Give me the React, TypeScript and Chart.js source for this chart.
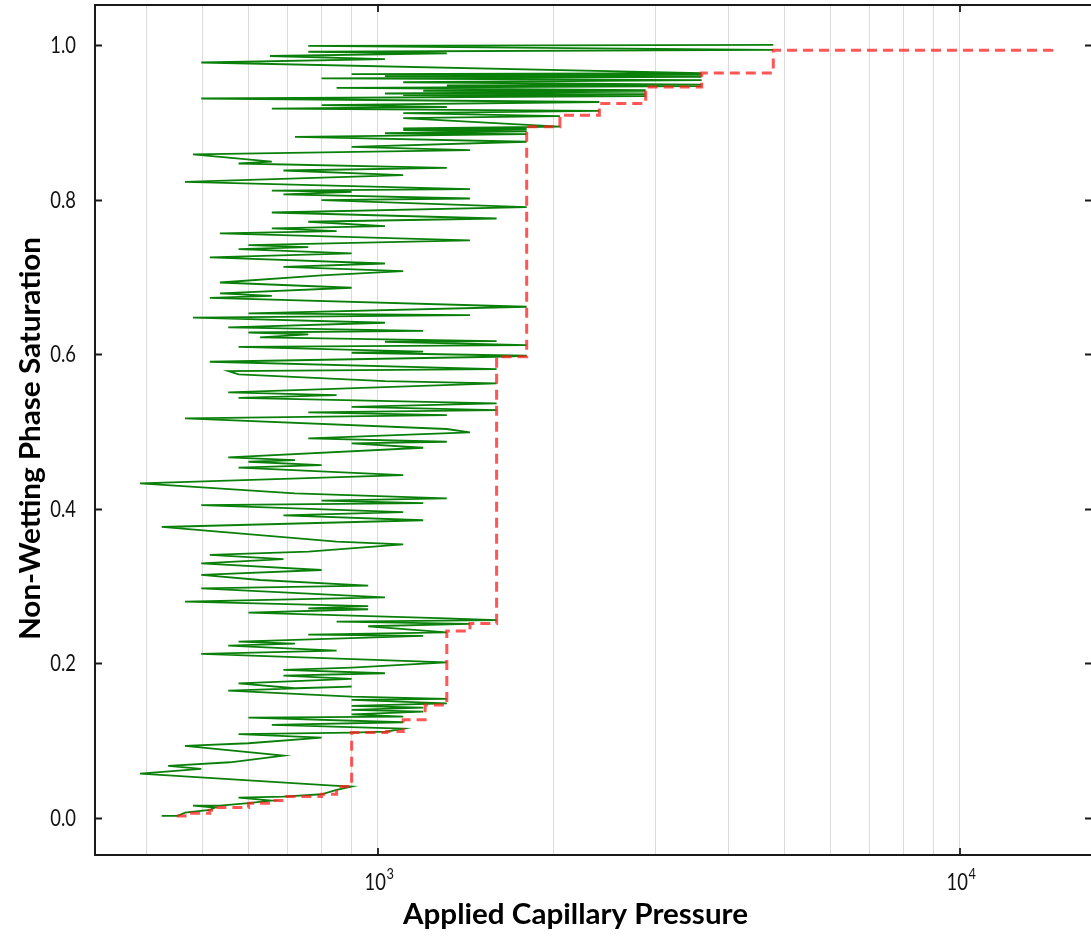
import React, { useEffect, useRef } from 'react';
import { Chart, registerables } from 'chart.js';

Chart.register(...registerables);

// Green trace: applied capillary pressure vs non-wetting phase saturation (time ordered)
const greenPressure = [
  425, 453, 466, 514, 525, 481, 535, 599, 657, 576, 688, 800, 849, 901, 838, 390, 497, 436, 557, 688,
  466, 599, 800, 576, 901, 1035, 1105, 657, 1105, 599, 1105, 901, 1196, 901, 1196, 901, 1313, 901, 1313, 901,
  553, 901, 720, 576, 901, 688, 1028, 688, 901, 1313, 497, 849, 553, 720, 576, 1196, 759, 1313, 962, 1439,
  849, 1599, 1313, 599, 962, 759, 962, 466, 1028, 497, 962, 627, 497, 800, 497, 688, 514, 759, 1105, 849,
  425, 1196, 688, 1105, 497, 1196, 800, 1313, 720, 390, 1105, 576, 800, 599, 720, 553, 1196, 901, 1313, 759,
  1439, 1313, 466, 1313, 759, 1599, 901, 1599, 576, 849, 553, 1599, 1028, 576, 553, 1599, 514, 1599, 1801, 901,
  1196, 576, 1801, 1028, 1599, 627, 759, 599, 1196, 553, 1028, 481, 1439, 599, 1801, 514, 657, 535, 901, 535,
  800, 1105, 688, 1028, 514, 901, 576, 759, 599, 1439, 535, 849, 657, 1028, 759, 1599, 657, 1801, 800, 1439,
  688, 901, 657, 1439, 466, 1105, 688, 1313, 576, 657, 481, 1439, 901,
  1801, 720, 1801, 1028, 1801, 1105, 1801, 1105, 2054, 1105, 2054, 1105, 2401, 657, 1313, 800, 2401, 497, 2884, 1105,
  2884, 1028, 2884, 1196, 2884, 849, 3599, 1313, 3599, 1105, 3599, 800, 3599, 1028, 3599, 901, 3599, 497, 1028, 652,
  1313, 759, 4778, 759, 4778
];
const greenSaturation = [
  0.0026, 0.0026, 0.0069, 0.0103, 0.0134, 0.0160, 0.0160, 0.0190, 0.0224, 0.0263, 0.0276, 0.0306, 0.0362, 0.0405, 0.0418, 0.0573, 0.0634, 0.0673, 0.0720, 0.0806,
  0.0931, 0.0966, 0.1039, 0.1083, 0.1104, 0.1117, 0.1155, 0.1203, 0.1238, 0.1298, 0.1310, 0.1340, 0.1375, 0.1397, 0.1427, 0.1450, 0.1483, 0.1527, 0.1540, 0.1570,
  0.1647, 0.1700, 0.1678, 0.1741, 0.1800, 0.1841, 0.1872, 0.1915, 0.1945, 0.2013, 0.2122, 0.2165, 0.2229, 0.2255, 0.2281, 0.2355, 0.2372, 0.2402, 0.2480, 0.2510,
  0.2540, 0.2560, 0.2583, 0.2657, 0.2700, 0.2712, 0.2740, 0.2799, 0.2854, 0.2970, 0.3006, 0.3079, 0.3144, 0.3208, 0.3294, 0.3350, 0.3403, 0.3446, 0.3541, 0.3575,
  0.3765, 0.3852, 0.3916, 0.3958, 0.4049, 0.4074, 0.4105, 0.4135, 0.4200, 0.4329, 0.4437, 0.4532, 0.4566, 0.4609, 0.4630, 0.4665, 0.4790, 0.4847, 0.4868, 0.4911,
  0.4989, 0.5033, 0.5170, 0.5213, 0.5248, 0.5278, 0.5320, 0.5364, 0.5437, 0.5472, 0.5507, 0.5623, 0.5653, 0.5739, 0.5783, 0.5808, 0.5903, 0.5968, 0.5981, 0.6020,
  0.6033, 0.6097, 0.6118, 0.6162, 0.6170, 0.6218, 0.6257, 0.6282, 0.6304, 0.6347, 0.6408, 0.6473, 0.6507, 0.6529, 0.6615, 0.6731, 0.6757, 0.6787, 0.6861, 0.6929,
  0.7020, 0.7076, 0.7132, 0.7175, 0.7253, 0.7305, 0.7361, 0.7386, 0.7412, 0.7473, 0.7564, 0.7594, 0.7628, 0.7659, 0.7715, 0.7757, 0.7835, 0.7903, 0.7994, 0.8016,
  0.8068, 0.8102, 0.8119, 0.8136, 0.8231, 0.8318, 0.8378, 0.8413, 0.8469, 0.8494, 0.8586, 0.8641, 0.8684,
  0.8750, 0.8814, 0.8850, 0.8860, 0.8886, 0.8900, 0.8915, 0.8922, 0.8945, 0.9056, 0.9081, 0.9120, 0.9150, 0.9180, 0.9200, 0.9224, 0.9265, 0.9310, 0.9340, 0.9355,
  0.9366, 0.9375, 0.9400, 0.9410, 0.9418, 0.9448, 0.9470, 0.9478, 0.9490, 0.9520, 0.9547, 0.9570, 0.9590, 0.9600, 0.9615, 0.9625, 0.9638, 0.9776, 0.9820, 0.9860,
  0.9895, 0.9915, 0.9940, 0.9990, 1.0005
];

// Red dashed: running maximum of applied pressure (staircase)
const redPressure = [451, 466, 514, 525, 599, 657, 688, 800, 849, 901, 1035, 1105, 1205, 1313, 1439, 1599, 1801, 2054, 2401, 2884, 3599, 4778, 14380];
const redSaturation = [0.0026, 0.006, 0.010, 0.0134, 0.019, 0.0224, 0.0276, 0.0306, 0.0405, 0.1104, 0.1117, 0.127, 0.146, 0.2419, 0.2516, 0.5968, 0.8943, 0.9094, 0.9246, 0.946, 0.964, 0.9935, 0.9995];

const yTickValues = [0, 0.2, 0.4, 0.6, 0.8, 1.0];
const yTickLabels = ['0.0', '0.2', '0.4', '0.6', '0.8', '1.0'];
const xGridValues = [400, 500, 600, 700, 800, 900, 1000, 2000, 3000, 4000, 5000, 6000, 7000, 8000, 9000, 10000];
const xMajorValues = [1000, 10000];
const xMajorBase = ['10', '10'];
const xMajorExp = ['3', '4'];
const xTitle = 'Applied Capillary Pressure';
const yTitle = 'Non-Wetting Phase Saturation';

function drawScaledText(ctx: CanvasRenderingContext2D, text: string, x: number, y: number, font: string, sx: number, align: CanvasTextAlign) {
  ctx.save();
  ctx.font = font;
  ctx.translate(x, y);
  ctx.scale(sx, 1);
  ctx.textAlign = align;
  ctx.textBaseline = 'alphabetic';
  ctx.fillText(text, 0, 0);
  ctx.restore();
}

const framePlugin = {
  id: 'framePlugin',
  afterDraw(chart: any) {
    const ctx: CanvasRenderingContext2D = chart.ctx;
    const area = chart.chartArea;
    const xs = chart.scales.x;
    const ys = chart.scales.y;
    ctx.save();
    // frame
    ctx.strokeStyle = '#1a1a1a';
    ctx.lineWidth = 2;
    ctx.beginPath();
    ctx.moveTo(area.right + 2, area.top);
    ctx.lineTo(area.left, area.top);
    ctx.lineTo(area.left, area.bottom);
    ctx.lineTo(area.right + 2, area.bottom);
    ctx.stroke();
    // inward ticks
    ctx.lineWidth = 1.8;
    ctx.beginPath();
    yTickValues.forEach((v) => {
      const py = Math.round(ys.getPixelForValue(v)) + 0.5;
      ctx.moveTo(area.left, py);
      ctx.lineTo(area.left + 7, py);
      ctx.moveTo(area.right - 6, py);
      ctx.lineTo(area.right, py);
    });
    xMajorValues.forEach((v) => {
      const px = Math.round(xs.getPixelForValue(v));
      ctx.moveTo(px, area.bottom);
      ctx.lineTo(px, area.bottom - 7);
      ctx.moveTo(px, area.top);
      ctx.lineTo(px, area.top + 7);
    });
    ctx.stroke();
    // tick labels
    ctx.fillStyle = '#111';
    yTickValues.forEach((v, i) => {
      const py = ys.getPixelForValue(v);
      drawScaledText(ctx, yTickLabels[i], area.left - 19, py + 8, '23px Lato', 0.8, 'right');
    });
    xMajorValues.forEach((v, i) => {
      const px = xs.getPixelForValue(v);
      ctx.font = '23px Lato';
      const wb = ctx.measureText(xMajorBase[i]).width * 0.8;
      ctx.font = '15px Lato';
      const we = ctx.measureText(xMajorExp[i]).width * 0.85;
      const start = px - (wb + we) / 2 + 1;
      drawScaledText(ctx, xMajorBase[i], start, area.bottom + 35, '23px Lato', 0.8, 'left');
      drawScaledText(ctx, xMajorExp[i], start + wb + 0.5, area.bottom + 24, '15px Lato', 0.85, 'left');
    });
    // axis titles
    ctx.fillStyle = '#000';
    ctx.font = 'bold 28px Lato';
    const wx = ctx.measureText(xTitle).width;
    drawScaledText(ctx, xTitle, 575.5, 924, 'bold 28px Lato', 345 / wx, 'center');
    const wy = ctx.measureText(yTitle).width;
    ctx.save();
    ctx.translate(40, 438.5);
    ctx.rotate(-Math.PI / 2);
    drawScaledText(ctx, yTitle, 0, 0, 'bold 28px Lato', 403 / wy, 'center');
    ctx.restore();
    ctx.restore();
  },
};

export default function App() {
  const canvasRef = useRef<HTMLCanvasElement | null>(null);

  useEffect(() => {
    const canvas = canvasRef.current;
    if (!canvas) return;
    const green = greenPressure.map((p, i) => ({ x: p, y: greenSaturation[i] }));
    const red = redPressure.map((p, i) => ({ x: p, y: redSaturation[i] }));
    const chart = new Chart(canvas, {
      type: 'line',
      data: {
        datasets: [
          {
            label: 'Max applied pressure',
            data: red,
            borderColor: 'rgba(255, 30, 30, 0.75)',
            borderWidth: 3,
            borderDash: [10, 6],
            stepped: true,
            pointRadius: 0,
            fill: false,
          },
          {
            label: 'Pressure trace',
            data: green,
            borderColor: 'rgb(10, 128, 10)',
            borderWidth: 1.8,
            pointRadius: 0,
            fill: false,
            tension: 0,
          },
        ],
      },
      options: {
        animation: false,
        responsive: false,
        maintainAspectRatio: false,
        events: [],
        layout: { padding: { top: 5, right: 0, left: 0, bottom: 0 } },
        plugins: { legend: { display: false }, tooltip: { enabled: false } },
        scales: {
          x: {
            type: 'logarithmic',
            min: 326.4,
            max: 16795,
            afterBuildTicks: (s: any) => {
              s.ticks = xGridValues.map((v) => ({ value: v }));
            },
            ticks: { display: false },
            grid: { color: 'rgba(0,0,0,0.14)', lineWidth: 1, drawTicks: false },
            border: { display: false },
            afterFit: (s: any) => {
              s.height = 83;
            },
          },
          y: {
            type: 'linear',
            min: -0.048,
            max: 1.052,
            afterBuildTicks: (s: any) => {
              s.ticks = yTickValues.map((v) => ({ value: v }));
            },
            ticks: { display: false },
            grid: { display: false, drawTicks: false },
            border: { display: false },
            afterFit: (s: any) => {
              s.width = 95;
            },
          },
        },
      },
      plugins: [framePlugin],
    } as any);
    return () => chart.destroy();
  }, []);

  return (
    <div style={{ position: 'absolute', left: 0, top: 0, width: 1091, height: 938, background: '#fff' }}>
      <canvas ref={canvasRef} width={1091} height={938} style={{ display: 'block', width: 1091, height: 938 }} />
    </div>
  );
}
